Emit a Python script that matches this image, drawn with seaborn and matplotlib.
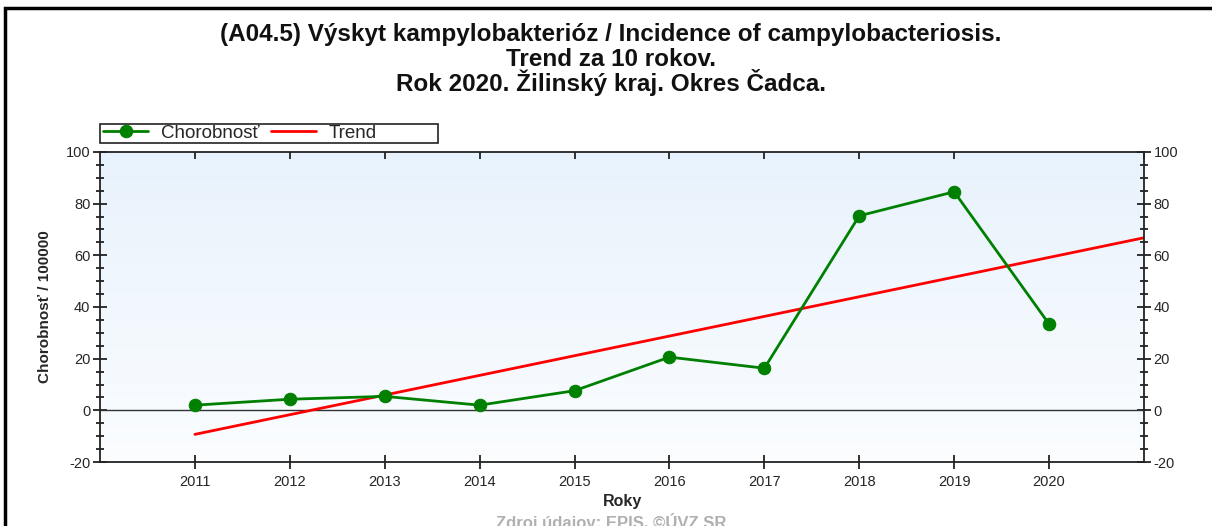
import numpy as np
import pandas as pd
import seaborn as sns
import matplotlib.pyplot as plt
from matplotlib.patches import Rectangle
from matplotlib.ticker import MultipleLocator

years = [2011, 2012, 2013, 2014, 2015, 2016, 2017, 2018, 2019, 2020]
chorobnost = [2.0, 4.3, 5.4, 2.0, 7.6, 20.6, 16.3, 75.3, 84.6, 33.4]
trend_years = [2011, 2021]
trend_values = [-9.3, 66.8]
y_ticks = [-20, 0, 20, 40, 60, 80, 100]

title_lines = ["(A04.5) Výskyt kampylobakterióz / Incidence of campylobacteriosis.",
               "Trend za 10 rokov.",
               "Rok 2020. Žilinský kraj. Okres Čadca."]

sns.set_style("white")
plt.rcParams['font.family'] = ['Liberation Sans', 'DejaVu Sans']
plt.rcParams['axes.unicode_minus'] = False

df = pd.DataFrame({"Roky": years, "Chorobnost": chorobnost})
df_trend = pd.DataFrame({"Roky": trend_years, "Trend": trend_values})

fig = plt.figure(figsize=(12.12, 5.26), dpi=100)
ax = fig.add_axes([100 / 1212, 1 - 462 / 526, 1044 / 1212, 310 / 526])

# gradient background of plot area
grad = np.linspace(0, 1, 256).reshape(-1, 1)
top_c = np.array([232, 242, 252]) / 255
bot_c = np.array([251, 253, 255]) / 255
img = top_c * (1 - grad[..., None]) + bot_c * grad[..., None]
ax.imshow(img, extent=(2010, 2021, -20, 100), aspect="auto", zorder=0, origin="upper")

ax.axhline(0, color="#333333", lw=1, zorder=1)
sns.lineplot(data=df_trend, x="Roky", y="Trend", ax=ax, color="#ff0000", lw=2,
             label="Trend", zorder=2)
sns.lineplot(data=df, x="Roky", y="Chorobnost", ax=ax, color="#008000", lw=2,
             marker="o", markersize=9, markeredgecolor="#008000",
             label="Chorobnosť", zorder=3)

ax.set_xlim(2010, 2021)
ax.set_ylim(-20, 100)
ax.set_xticks(years)
ax.set_yticks(y_ticks)
ax.yaxis.set_minor_locator(MultipleLocator(5))
for s in ax.spines.values():
    s.set_color("#222222")
    s.set_linewidth(1.3)

ax.tick_params(axis="y", which="major", direction="inout", length=10, width=1.3,
               left=True, right=True, labelleft=True, labelright=True,
               labelsize=10.5, color="#222222", pad=2)
ax.tick_params(axis="y", which="minor", direction="inout", length=6, width=1.3,
               left=True, right=True, color="#222222")
ax.tick_params(axis="x", which="major", direction="inout", length=10, width=1.3,
               bottom=True, labelsize=10.5, color="#222222", pad=4)
top = ax.secondary_xaxis("top")
top.set_xticks(years[:-1] + [2021])
top.tick_params(direction="in", length=5, width=1.3, labeltop=False, color="#222222")
top.spines["top"].set_visible(False)

ax.set_xlabel("Roky", fontsize=11.5, fontweight="bold", labelpad=4)
ax.set_ylabel("Chorobnosť / 100000", fontsize=11, fontweight="bold", labelpad=10)

handles, labels = ax.get_legend_handles_labels()
order = [labels.index("Chorobnosť"), labels.index("Trend")]
ax.legend_.remove()
leg = fig.legend([handles[i] for i in order], [labels[i] for i in order],
                 loc="center left", ncol=2,
                 bbox_to_anchor=(103 / 1212, 1 - 133.5 / 526),
                 frameon=False, fontsize=13.5, handlelength=2.4, handletextpad=0.7,
                 columnspacing=0.6, borderaxespad=0, borderpad=0)
fig.add_artist(Rectangle((100 / 1212, 1 - 143 / 526), 338 / 1212, 19 / 526,
                         transform=fig.transFigure, fill=False,
                         edgecolor="#222222", lw=1.2))

for i, line in enumerate(title_lines):
    fig.text(0.504, 1 - (41.5 + 25 * i) / 526, line, ha="center", va="baseline",
             fontsize=17.5, fontweight="bold", color="#111111")
fig.text(0.504, 1 - 522 / 526, "Zdroj údajov: EPIS, ©ÚVZ SR", ha="center", va="center",
         fontsize=12, fontweight="bold", color="#b0b0b0")

fig.add_artist(Rectangle((5 / 1212, -0.1), 1.2, 1 - 8 / 526 + 0.1, transform=fig.transFigure,
                         fill=False, edgecolor="black", lw=2.5))

fig.savefig("out.png", dpi=100)
